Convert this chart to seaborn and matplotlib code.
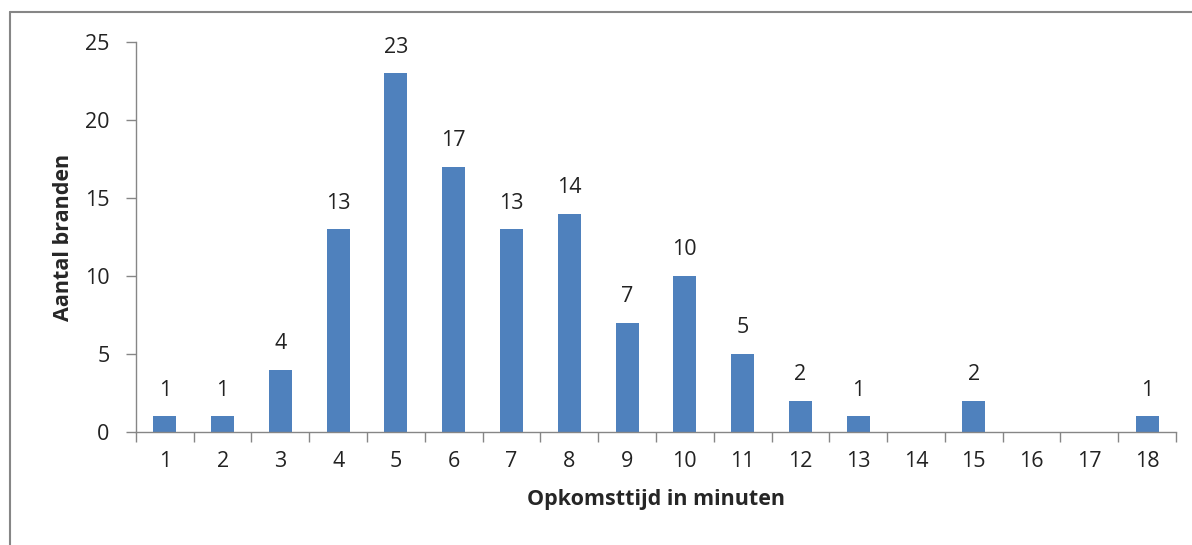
import matplotlib
matplotlib.use("Agg")
import matplotlib.pyplot as plt
from matplotlib.lines import Line2D
from matplotlib.ticker import FixedLocator
import seaborn as sns
import pandas as pd

# Opkomsttijd (minuten) en aantal branden
minuten = [str(m) for m in range(1, 19)]
aantal = [1, 1, 4, 13, 23, 17, 13, 14, 7, 10, 5, 2, 1, 0, 2, 0, 0, 1]

df = pd.DataFrame({"Opkomsttijd": minuten, "Aantal": aantal})

sns.set_style("white")
plt.rcParams["font.family"] = ["Open Sans", "DejaVu Sans"]

grijs = "#868686"
fig = plt.figure(figsize=(11.92, 5.45), dpi=100)
ax = fig.add_axes([0.114, 0.2073, 0.8726, 0.7156])

sns.barplot(data=df, x="Opkomsttijd", y="Aantal", color="#4F81BD",
            width=0.4, saturation=1, linewidth=0, ax=ax)

# labels boven de staven
for i, v in enumerate(aantal):
    if v > 0:
        ax.text(i, v + 1.0, str(v), ha="center", va="bottom", fontsize=15.5, color="#222222")

ax.set_ylim(0, 25)
ax.set_xlim(-0.5, len(minuten) - 0.5)
ax.set_yticks(range(0, 26, 5))
ax.tick_params(axis="y", left=True, labelsize=15.5, length=7, color=grijs, width=1,
               pad=12, labelcolor="#222222")
ax.tick_params(axis="x", which="major", bottom=True, length=0, labelsize=15.5, pad=14,
               labelcolor="#222222")
ax.xaxis.set_minor_locator(FixedLocator([i - 0.5 for i in range(len(minuten) + 1)]))
ax.tick_params(axis="x", which="minor", bottom=True, length=7, color=grijs, width=1,
               direction="out")

for s in ["top", "right"]:
    ax.spines[s].set_visible(False)
for s in ["left", "bottom"]:
    ax.spines[s].set_color(grijs)
    ax.spines[s].set_linewidth(1)

ax.set_xlabel("Opkomsttijd in minuten", fontsize=15.5, fontweight="bold", labelpad=12)
ax.set_ylabel("Aantal branden", fontsize=15.5, fontweight="bold", labelpad=8)

# rand rond de grafiek
fig.add_artist(Line2D([10 / 1192, 1.0], [533 / 545, 533 / 545], color=grijs, lw=1.5))
fig.add_artist(Line2D([10 / 1192, 10 / 1192], [0, 533 / 545], color=grijs, lw=1.5))

fig.savefig("out.png", dpi=100)
